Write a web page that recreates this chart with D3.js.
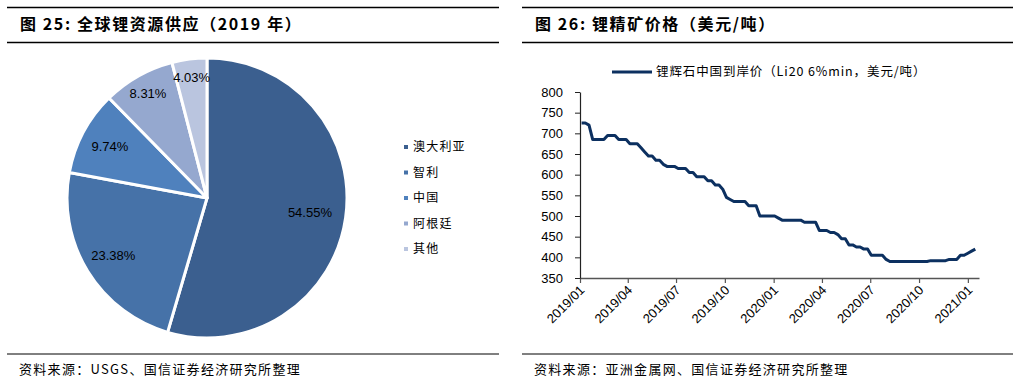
<!DOCTYPE html>
<html>
<head>
<meta charset="utf-8">
<script src="https://cdn.jsdelivr.net/npm/d3@7"></script>
<style>
  html, body { margin: 0; padding: 0; background: #fff; }
  svg { display: block; }
</style>
</head>
<body>
<svg id="chart" width="1022" height="383"></svg>
<script>
// ---------- Data ----------
const pieCategories = ["澳大利亚", "智利", "中国", "阿根廷", "其他"];
const pieValues = [54.55, 23.38, 9.74, 8.31, 4.03];
const pieColors = ["#3b5f8f", "#4672a8", "#4f81bd", "#95a8cf", "#bac5df"];

const lineSeriesName = "锂辉石中国到岸价（Li20 6%min，美元/吨）";
const lineStartDate = "2019-01-04"; // weekly observations
const lineValues = [
  725, 725, 720, 685, 685, 685, 685, 695, 695, 695,
  685, 685, 685, 675, 675, 675, 665, 655, 645, 645,
  635, 635, 625, 620, 620, 620, 615, 615, 615, 605,
  605, 595, 595, 595, 585, 585, 575, 575, 565, 545,
  540, 535, 535, 535, 535, 525, 525, 525, 500, 500,
  500, 500, 500, 495, 490, 490, 490, 490, 490, 490,
  485, 485, 485, 485, 465, 465, 465, 460, 460, 455,
  445, 445, 430, 430, 425, 425, 420, 420, 405, 405,
  405, 405, 395, 390, 390, 390, 390, 390, 390, 390,
  390, 390, 390, 390, 392, 392, 392, 392, 392, 395,
  395, 395, 405, 405, 410, 415, 420
];
const xTickLabels = ["2019/01", "2019/04", "2019/07", "2019/10", "2020/01", "2020/04", "2020/07", "2020/10", "2021/01"];
const yTickValues = [350, 400, 450, 500, 550, 600, 650, 700, 750, 800];

const titleLeft = "图 25:  全球锂资源供应（2019 年）";
const titleRight = "图 26:  锂精矿价格（美元/吨）";
const sourceLeft = "资料来源：USGS、国信证券经济研究所整理";
const sourceRight = "资料来源：亚洲金属网、国信证券经济研究所整理";

// ---------- Setup ----------
const svg = d3.select("#chart");
const cjk = "'Noto Sans CJK SC', 'Noto Sans', sans-serif";
const latin = "'Liberation Sans', Arial, sans-serif";

// Header / footer rules and texts
function panelFrame(x0, x1, title, source) {
  svg.append("line").attr("x1", x0).attr("x2", x1).attr("y1", 7.5).attr("y2", 7.5)
    .attr("stroke", "#000").attr("stroke-width", 1.5);
  svg.append("line").attr("x1", x0).attr("x2", x1).attr("y1", 42.5).attr("y2", 42.5)
    .attr("stroke", "#000").attr("stroke-width", 1.5);
  svg.append("text").attr("x", x0 + 13).attr("y", 30)
    .attr("font-family", cjk).attr("font-weight", "bold").attr("font-size", 16)
    .attr("letter-spacing", 1.6)
    .attr("fill", "#000").text(title);
  svg.append("line").attr("x1", x0).attr("x2", x1).attr("y1", 354).attr("y2", 354)
    .attr("stroke", "#000").attr("stroke-width", 1);
  svg.append("text").attr("x", x0 + 12).attr("y", 374)
    .attr("font-family", cjk).attr("font-size", 13).attr("letter-spacing", 1.3)
    .attr("fill", "#000").text(source);
}
panelFrame(7, 499, titleLeft, sourceLeft);
panelFrame(522, 1013, titleRight, sourceRight);

// ---------- Pie ----------
const cx = 207, cy = 198, r = 140;
const pieData = pieCategories.map((c, i) => ({ cat: c, value: pieValues[i], color: pieColors[i] }));
const pie = d3.pie().sort(null).value(d => d.value);
const arcs = pie(pieData);
const arcGen = d3.arc().innerRadius(0).outerRadius(r);
const labelR = [104, 110, 110, 120, 122];

const gPie = svg.append("g").attr("transform", `translate(${cx},${cy})`);
gPie.selectAll("path").data(arcs).enter().append("path")
  .attr("d", arcGen)
  .attr("fill", d => d.data.color)
  .attr("stroke", "#fff").attr("stroke-width", 3).attr("stroke-linejoin", "round");

gPie.selectAll("text.lbl").data(arcs).enter().append("text")
  .attr("class", "lbl")
  .attr("transform", (d, i) => {
    const a = d3.arc().innerRadius(labelR[i]).outerRadius(labelR[i]);
    const c = a.centroid(d);
    return `translate(${c[0]},${c[1]})`;
  })
  .attr("text-anchor", "middle").attr("dy", "0.35em")
  .attr("font-family", latin).attr("font-size", 13).attr("fill", "#000")
  .text(d => d.data.value.toFixed(2) + "%");

// Pie legend
const legY = d3.scalePoint().domain(pieCategories).range([147, 249]);
const gLeg = svg.append("g");
pieData.forEach(d => {
  gLeg.append("rect").attr("x", 404).attr("y", legY(d.cat) - 2).attr("width", 4).attr("height", 4)
    .attr("fill", d.color);
  gLeg.append("text").attr("x", 413).attr("y", legY(d.cat)).attr("dy", "0.35em")
    .attr("font-family", cjk).attr("font-size", 12).attr("letter-spacing", 1.2)
    .attr("fill", "#000").text(d.cat);
});

// ---------- Line chart ----------
const parse = d3.utcParse("%Y-%m-%d");
const start = parse(lineStartDate);
const lineData = lineValues.map((v, i) => ({ date: d3.utcDay.offset(start, 7 * i), value: v }));

const x = d3.scaleUtc()
  .domain([Date.UTC(2019, 0, 1), Date.UTC(2021, 0, 22)])
  .range([580, 979]);
const y = d3.scaleLinear().domain([350, 800]).range([278, 92]);

const tickDates = xTickLabels.map(s => d3.utcParse("%Y/%m")(s));

const xAxis = d3.axisBottom(x).tickValues(tickDates).tickFormat(d3.utcFormat("%Y/%m"))
  .tickSizeInner(5).tickSizeOuter(0);
const gx = svg.append("g").attr("transform", `translate(0,${278})`).call(xAxis);
gx.select(".domain").attr("stroke", "#555").attr("stroke-width", 1.5);
gx.selectAll(".tick line").attr("stroke", "#555").attr("stroke-width", 1.2);
gx.selectAll(".tick text")
  .attr("font-family", latin).attr("font-size", 13).attr("fill", "#000")
  .attr("text-anchor", "end")
  .attr("transform", "translate(1,6) rotate(-45)")
  .attr("dy", "0.35em").attr("y", 3).attr("x", -2);

const yAxis = d3.axisLeft(y).tickValues(yTickValues).tickSizeInner(5).tickSizeOuter(0).tickPadding(12);
const gy = svg.append("g").attr("transform", `translate(580,0)`).call(yAxis);
gy.select(".domain").attr("stroke", "#222").attr("stroke-width", 1.2);
gy.selectAll(".tick line").attr("stroke", "#222");
gy.selectAll(".tick text").attr("font-family", latin).attr("font-size", 13).attr("fill", "#000");

const lineGen = d3.line().x(d => x(d.date)).y(d => y(d.value));
svg.append("path").datum(lineData)
  .attr("d", lineGen)
  .attr("fill", "none").attr("stroke", "#0c3060").attr("stroke-width", 3)
  .attr("stroke-linejoin", "round");

// Line legend
svg.append("line").attr("x1", 612).attr("x2", 652).attr("y1", 72).attr("y2", 72)
  .attr("stroke", "#0c3060").attr("stroke-width", 3);
svg.append("text").attr("x", 656).attr("y", 72).attr("dy", "0.35em")
  .attr("font-family", cjk).attr("font-size", 12.5).attr("letter-spacing", 0.9)
  .attr("fill", "#000").text(lineSeriesName);
</script>
</body>
</html>
